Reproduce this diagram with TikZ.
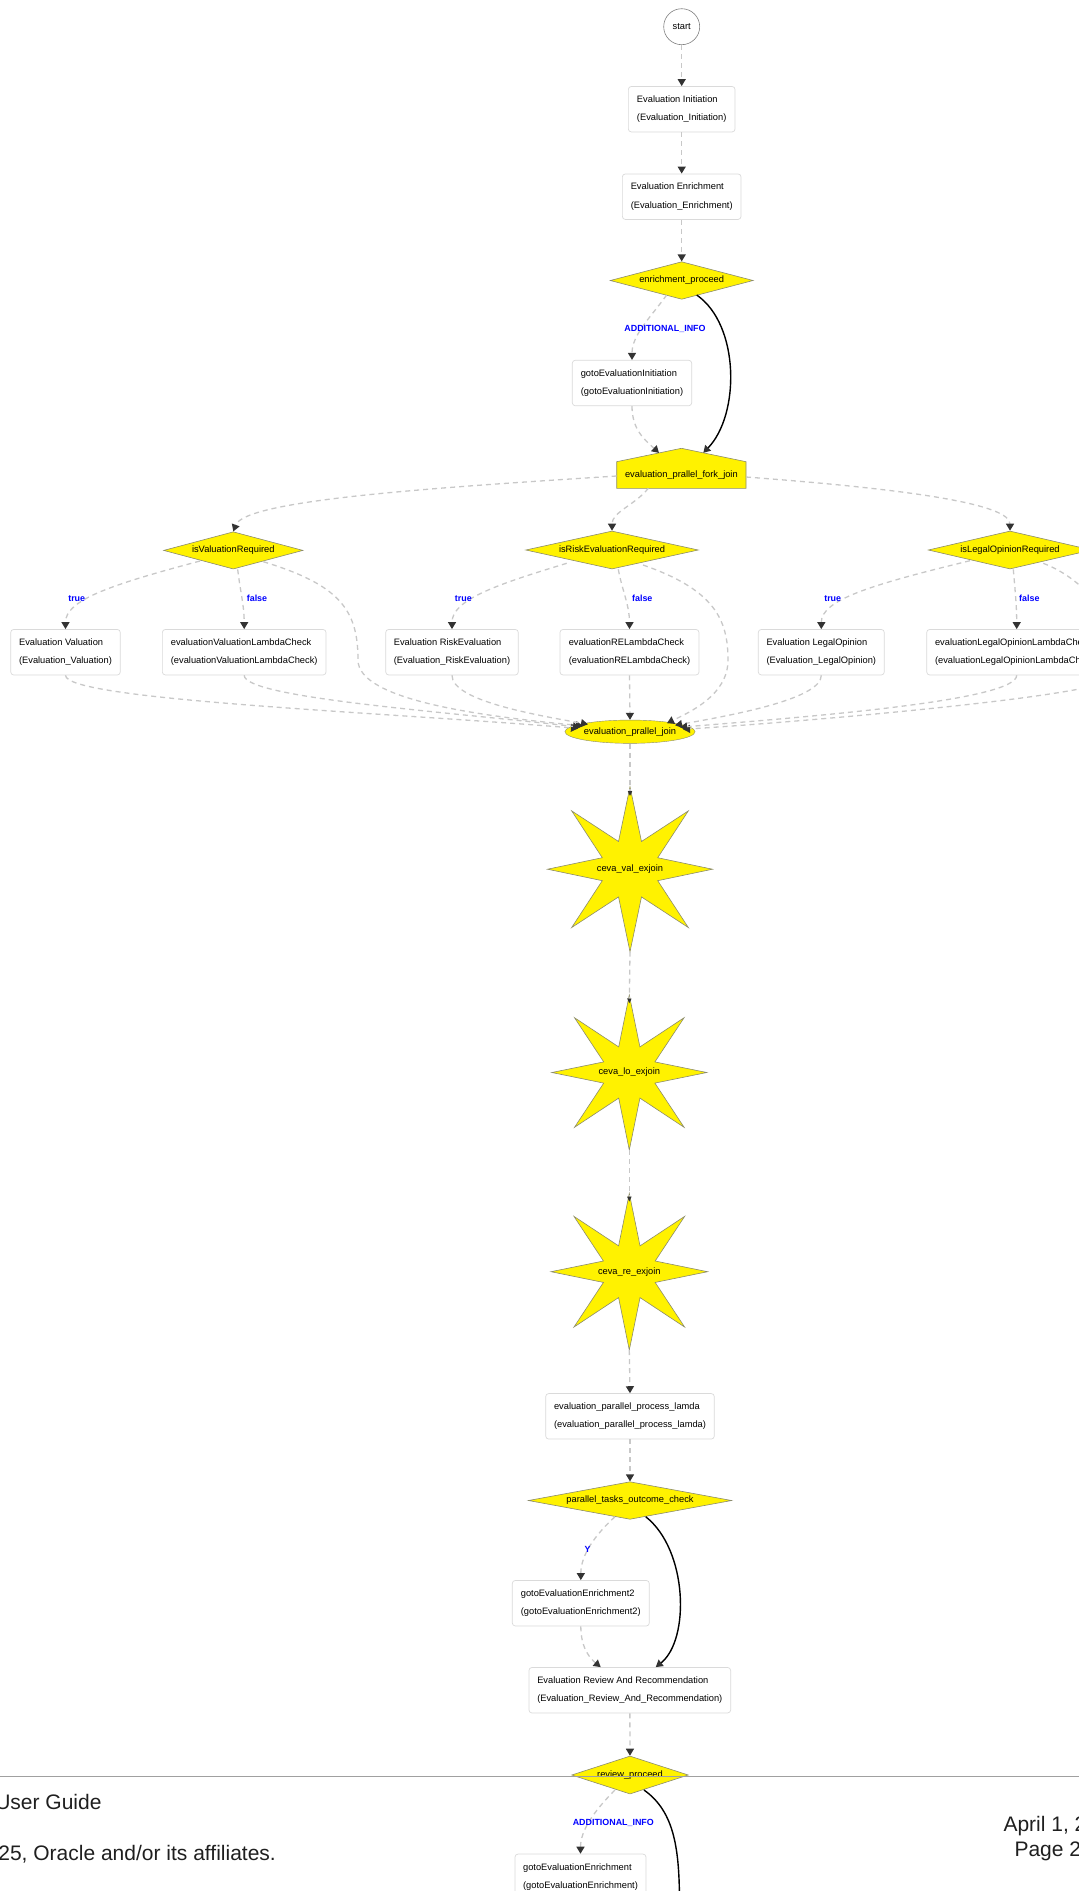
\documentclass[tikz,border=0pt]{standalone}
\usepackage{fontspec}
\setmainfont{Liberation Sans}
\usetikzlibrary{shapes.geometric,arrows.meta,calc}
\definecolor{edgec}{RGB}{200,200,200}
\definecolor{tipc}{RGB}{51,51,51}
\definecolor{boxc}{RGB}{218,218,218}
\definecolor{diac}{RGB}{140,140,110}
\definecolor{footc}{RGB}{160,160,160}
\newcommand{\nodefont}{\fontsize{9.3}{18.3}\selectfont}
\newcommand{\labfont}{\fontsize{8.9}{10}\selectfont\bfseries}
\newcommand{\footfont}{\fontsize{21}{25}\selectfont}
\newcommand{\starshapeat}[4]{%
  \filldraw[starline, shift={(#1,#2)}] (90:#3)
    \foreach \k in {1,...,15}{ -- ({90+22.5*\k}:{ifthenelse(isodd(\k),#4,#3)}) } -- cycle;}
\begin{document}
\begin{tikzpicture}[x=1pt,y=-1pt,
  box/.style={draw=boxc, fill=white, rounded corners=3pt, line width=0.7pt,
    minimum height=45.5pt, inner sep=0pt, align=left, font=\nodefont},
  dia/.style={shape=diamond, draw=diac, fill=yellow, line width=0.6pt,
    inner sep=0pt, shape aspect=5, font=\nodefont},
  txt/.style={inner sep=0pt, font=\nodefont},
  startnode/.style={circle, draw=gray, fill=white, line width=0.6pt,
    minimum size=36pt, inner sep=0pt, font=\nodefont},
  joinnode/.style={ellipse, draw=diac, fill=yellow, line width=0.4pt,
    minimum width=108.4pt, minimum height=23.3pt, inner sep=0pt, font=\nodefont},
  starline/.style={draw=diac, fill=yellow, line width=0.6pt},
  elab/.style={inner sep=1pt, text=blue, font=\labfont},
  flow/.style={draw=edgec, line width=1.3pt, dash pattern=on 5pt off 4pt,
    -{Triangle[length=7pt,width=8pt,color=tipc]}},
  tinyflow/.style={draw=edgec, line width=1.3pt, dash pattern=on 5pt off 4pt,
    -{Triangle[length=5pt,width=4pt,color=tipc]}},
  strong/.style={draw=black, line width=1.4pt,
    -{Triangle[length=7pt,width=8pt,color=tipc]}},
  foot/.style={inner sep=0pt, font=\footfont, text=black!88},
  footline/.style={draw=footc, line width=1.5pt}]
\useasboundingbox (0,0) rectangle (1079,1891);
\clip (0,0) rectangle (1079,1891);

% ---------- top chain ----------
\node[startnode] (start) at (681.7,26.7) {start};
\node[box, minimum width=106.7pt] (init) at (681.7,109.2) {Evaluation Initiation\\(Evaluation\_Initiation)};
\node[box, minimum width=118.7pt] (enrich) at (681.7,196.7) {Evaluation Enrichment\\(Evaluation\_Enrichment)};
\node[dia, minimum width=143pt, minimum height=37.6pt] (ep) at (681.7,280.5) {enrichment\_proceed};
\node[box, minimum width=119.4pt] (gi) at (632,383) {gotoEvaluationInitiation\\(gotoEvaluationInitiation)};

% fork join (house shape)
\filldraw[starline] (616.7,461.7) -- (681.4,448.3) -- (746,461.7) -- (746,488.3) -- (616.7,488.3) -- cycle;
\node[txt] (fork) at (681.4,475) {evaluation\_prallel\_fork\_join};

% ---------- decision row ----------
\node[dia, minimum width=139.4pt, minimum height=37.3pt] (iv) at (233.3,550.4) {isValuationRequired};
\node[dia, minimum width=172.6pt, minimum height=38pt] (ir) at (612,550) {isRiskEvaluationRequired};
\node[dia, minimum width=163.4pt, minimum height=38pt] (il) at (1010,550) {isLegalOpinionRequired};

\node[box, minimum width=109.6pt] (bv) at (65.5,652.2) {Evaluation Valuation\\(Evaluation\_Valuation)};
\node[box, minimum width=163.7pt] (bvl) at (244.2,652.2) {evaluationValuationLambdaCheck\\(evaluationValuationLambdaCheck)};
\node[box, minimum width=132.6pt] (br) at (452,652.2) {Evaluation RiskEvaluation\\(Evaluation\_RiskEvaluation)};
\node[box, minimum width=139pt] (brl) at (629.5,652.2) {evaluationRELambdaCheck\\(evaluationRELambdaCheck)};
\node[box, minimum width=126pt] (bl) at (821.3,652.2) {Evaluation LegalOpinion\\(Evaluation\_LegalOpinion)};
\node[box, minimum width=180pt] (bll) at (1016.7,652.2) {evaluationLegalOpinionLambdaCheck\\(evaluationLegalOpinionLambdaCheck)};

\node[joinnode] (join) at (630,731.7) {evaluation\_prallel\_join};

% ---------- stars ----------
\starshapeat{630}{869.2}{82.5}{30}
\node[txt] (s1) at (630,869.2) {ceva\_val\_exjoin};
\starshapeat{629.3}{1072.5}{77.5}{27.7}
\node[txt] (s2) at (629.3,1072.5) {ceva\_lo\_exjoin};
\starshapeat{629.3}{1271.7}{78.3}{28}
\node[txt] (s3) at (629.3,1271.7) {ceva\_re\_exjoin};

% ---------- lower chain ----------
\node[box, minimum width=168.6pt] (lam) at (630,1416.3) {evaluation\_parallel\_process\_lamda\\(evaluation\_parallel\_process\_lamda)};
\node[dia, minimum width=203.4pt, minimum height=37.6pt] (ptc) at (630,1500.5) {parallel\_tasks\_outcome\_check};
\node[box, minimum width=137pt] (g2) at (580.8,1603.2) {gotoEvaluationEnrichment2\\(gotoEvaluationEnrichment2)};
\node[box, minimum width=201.7pt] (rev) at (629.8,1690.2) {Evaluation Review And Recommendation\\(Evaluation\_Review\_And\_Recommendation)};
\node[dia, minimum width=116.7pt, minimum height=38pt] (rp) at (630,1775) {review\_proceed};
\node[box, minimum width=131pt] (ge) at (580.5,1876.8) {gotoEvaluationEnrichment\\(gotoEvaluationEnrichment)};
\coordinate (offend) at (679.5,1905);

% ---------- edges: top ----------
\draw[flow] (start) -- (init);
\draw[flow] (init) -- (enrich);
\draw[flow] (enrich) -- (ep);
\draw[flow] ($(ep.center)+(-15,14.5)$) .. controls (650,318) and (632,335) .. (gi.north);
\draw[strong] ($(ep.center)+(15,14.5)$) .. controls (740,325) and (740,415) .. ($(fork)+(21.9,-22.2)$);
\draw[flow] (gi.south) .. controls (632,430) and (645,440) .. ($(fork)+(-22.4,-22.1)$);

% fork -> decisions
\draw[flow] ($(fork)+(-64.7,1)$) .. controls (430,488) and (245,500) .. (iv.north);
\draw[flow] ($(fork)+(-33.1,13.3)$) .. controls (635,505) and (612,512) .. (ir.north);
\draw[flow] ($(fork)+(64.6,2)$) .. controls (920,490) and (1010,505) .. (il.north);

% isValuationRequired
\draw[flow] ($(iv.center)+(-33.3,10.6)$) .. controls (110,585) and (65.5,600) .. (bv.north);
\draw[flow] ($(iv.south)+(4.4,0)$) .. controls (240,590) and (244.2,605) .. (bvl.north);
\draw[flow] ($(iv.center)+(30,11.3)$) .. controls (340,585) and (358,610) .. (358,660)
   .. controls (358,700) and (480,716) .. ($(join)+(-47,-5.8)$);
\draw[flow] (bv.south) .. controls (65.5,700) and (380,712) .. ($(join)+(-52,-3.3)$);
\draw[flow] (bvl.south) .. controls (244.2,698) and (450,712) .. ($(join)+(-50,-4.5)$);

% isRiskEvaluationRequired
\draw[flow] ($(ir.center)+(-45.3,13.3)$) .. controls (495,585) and (452,600) .. (br.north);
\draw[flow] ($(ir.south)+(6.3,0)$) .. controls (622,590) and (629.5,605) .. (brl.north);
\draw[flow] ($(ir.center)+(31,15)$) .. controls (715,590) and (728,620) .. (728,660)
   .. controls (728,695) and (690,712) .. ($(join)+(37,-8.5)$);
\draw[flow] (br.south) .. controls (452,700) and (530,714) .. ($(join)+(-42,-7.4)$);
\draw[flow] (brl.south) -- (join.north);

% isLegalOpinionRequired
\draw[flow] ($(il.center)+(-40,10.7)$) .. controls (870,585) and (821.3,600) .. (bl.north);
\draw[flow] ($(il.south)+(3.3,0)$) .. controls (1015,590) and (1016.7,605) .. (bll.north);
\draw[flow] ($(il.center)+(33.3,13.3)$) .. controls (1100,585) and (1135,650) .. (1100,684)
   .. controls (1050,700) and (800,722) .. ($(join)+(53,-2.4)$);
\draw[flow] (bl.south) .. controls (821.3,698) and (740,714) .. ($(join)+(45,-6.5)$);
\draw[flow] (bll.south) .. controls (1016.7,700) and (820,716) .. ($(join)+(50,-4.5)$);

% join -> stars -> lamda
\draw[tinyflow] (join.south) -- ($(s1)+(0,-73)$);
\draw[tinyflow] ($(s1)+(0,82.5)$) -- ($(s2)+(0,-69)$);
\draw[tinyflow] ($(s2)+(0,77.5)$) -- ($(s3)+(0,-70)$);
\draw[flow] ($(s3)+(0,78.3)$) -- (lam.north);
\draw[flow] (lam) -- (ptc);

% outcome check
\draw[flow] ($(ptc.center)+(-15,16.2)$) .. controls (595,1535) and (580.8,1555) .. (g2.north);
\draw[strong] ($(ptc.center)+(15.7,16.2)$) .. controls (688,1550) and (690,1640) .. ($(rev.north)+(25.9,0)$);
\draw[flow] (g2.south) .. controls (580.8,1650) and (592,1660) .. ($(rev.north)+(-29.1,0)$);
\draw[flow] (rev) -- (rp);

% review proceed
\draw[flow] ($(rp.center)+(-15,15)$) .. controls (595,1810) and (580.5,1830) .. (ge.north);
\draw[strong, -] ($(rp.center)+(14,15)$) .. controls (675,1812) and (679.5,1850) .. (offend);

% ---------- edge labels ----------
\node[elab] (l1) at (665,329.3) {ADDITIONAL\_INFO};
\node[elab] (l2) at (76.7,598.3) {true};
\node[elab] (l3) at (257,598.3) {false};
\node[elab] (l4) at (463.3,598.3) {true};
\node[elab] (l5) at (642.3,598.3) {false};
\node[elab] (l6) at (832.7,598.3) {true};
\node[elab] (l7) at (1029.3,598.3) {false};
\node[elab] (l8) at (587.7,1549) {Y};
\node[elab] (l9) at (613.3,1822.7) {ADDITIONAL\_INFO};

% ---------- page footer ----------
\draw[footline] (0,1776.5) -- (1079,1776.5);
\node[foot, anchor=base east] (f1) at (101.7,1809.3) {User Guide};
\node[foot, anchor=base east] (f2) at (276,1860) {25, Oracle and/or its affiliates.};
\node[foot, anchor=base west] (f3) at (1003.3,1831) {April 1, 2};
\node[foot, anchor=base west] (f4) at (1014.3,1856.7) {Page 2};
\end{tikzpicture}
\end{document}
